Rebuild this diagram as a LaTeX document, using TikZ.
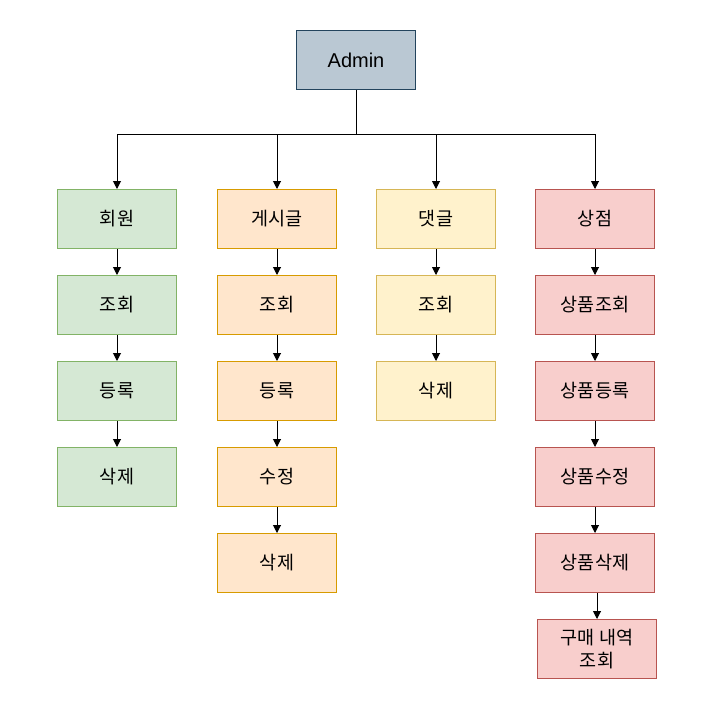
\documentclass[tikz,border=0pt]{standalone}
\usepackage{fontspec}
\setmainfont{Liberation Sans}
\newfontfamily\kr{Noto Sans CJK KR}
\usetikzlibrary{positioning,arrows.meta}

\definecolor{adminfill}{HTML}{BAC8D3}
\definecolor{admindraw}{HTML}{23445D}
\definecolor{greenfill}{HTML}{D5E8D4}
\definecolor{greendraw}{HTML}{82B366}
\definecolor{orangefill}{HTML}{FFE6CC}
\definecolor{orangedraw}{HTML}{D79B00}
\definecolor{yellowfill}{HTML}{FFF2CC}
\definecolor{yellowdraw}{HTML}{D6B656}
\definecolor{redfill}{HTML}{F8CECC}
\definecolor{reddraw}{HTML}{B85450}

\tikzset{
    box/.style={rectangle, draw, line width=1pt, minimum width=119pt, minimum height=59pt,
        align=center, font=\kr\fontsize{18.5}{23}\selectfont, inner sep=2pt},
    adminbox/.style={box, fill=adminfill, draw=admindraw, font=\fontsize{20}{23}\selectfont},
    greenbox/.style={box, fill=greenfill, draw=greendraw},
    orangebox/.style={box, fill=orangefill, draw=orangedraw},
    yellowbox/.style={box, fill=yellowfill, draw=yellowdraw},
    redbox/.style={box, fill=redfill, draw=reddraw},
    link/.style={-{Triangle[length=8pt,width=8pt]}, line width=1pt}
}

\begin{document}
\begin{tikzpicture}[x=1pt, y=-1pt, node distance=26pt]
    \useasboundingbox (0,0) rectangle (722,709);

    \node (admin) [adminbox] at (356,60) {Admin};
    \coordinate (bus) at (356,134);

    % 회원
    \node (member) [greenbox] at (117,219) {회원};
    \node (memberread) [greenbox, below=of member] {조회};
    \node (memberadd) [greenbox, below=of memberread] {등록};
    \node (memberdel) [greenbox, below=of memberadd] {삭제};

    % 게시글
    \node (post) [orangebox] at (277,219) {게시글};
    \node (postread) [orangebox, below=of post] {조회};
    \node (postadd) [orangebox, below=of postread] {등록};
    \node (postedit) [orangebox, below=of postadd] {수정};
    \node (postdel) [orangebox, below=of postedit] {삭제};

    % 댓글
    \node (comment) [yellowbox] at (436,219) {댓글};
    \node (commentread) [yellowbox, below=of comment] {조회};
    \node (commentdel) [yellowbox, below=of commentread] {삭제};

    % 상점
    \node (shop) [redbox] at (595,219) {상점};
    \node (shopread) [redbox, below=of shop] {상품조회};
    \node (shopadd) [redbox, below=of shopread] {상품등록};
    \node (shopedit) [redbox, below=of shopadd] {상품수정};
    \node (shopdel) [redbox, below=of shopedit] {상품삭제};
    \node (orders) [redbox, below=of shopdel, xshift=2pt] {구매 내역\\조회};

    \draw[line width=1pt] (admin) -- (bus);
    \foreach \col in {member,post,comment,shop}
        \draw[link] (bus) -| (\col);

    \draw[link] (member) -- (memberread);
    \draw[link] (memberread) -- (memberadd);
    \draw[link] (memberadd) -- (memberdel);

    \draw[link] (post) -- (postread);
    \draw[link] (postread) -- (postadd);
    \draw[link] (postadd) -- (postedit);
    \draw[link] (postedit) -- (postdel);

    \draw[link] (comment) -- (commentread);
    \draw[link] (commentread) -- (commentdel);

    \draw[link] (shop) -- (shopread);
    \draw[link] (shopread) -- (shopadd);
    \draw[link] (shopadd) -- (shopedit);
    \draw[link] (shopedit) -- (shopdel);
    \draw[link] (shopdel.south -| orders) -- (orders);
\end{tikzpicture}
\end{document}
